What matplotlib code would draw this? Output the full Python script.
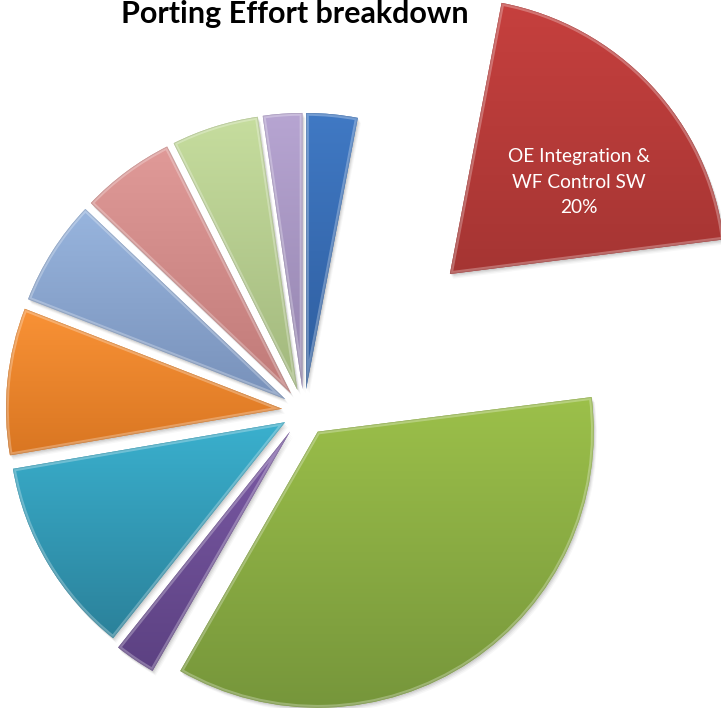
import matplotlib
matplotlib.use("Agg")
import matplotlib.pyplot as plt
import numpy as np
from matplotlib.colors import to_rgb
from matplotlib.patches import Wedge
import matplotlib.transforms as mtransforms

# ---------------- data ----------------
title = "Porting Effort breakdown"
categories = ["Item A", "OE Integration &\nWF Control SW", "Item C", "Item D", "Item E",
              "Item F", "Item G", "Item H", "Item I", "Item J"]
shown_label = [False, True, False, False, False, False, False, False, False, False]
values = [3.0, 20.0, 35.3, 2.4, 11.6, 8.6, 6.2, 5.5, 5.1, 2.3]
explode = [0.08, 0.725, 0.09, 0.09, 0.08, 0.08, 0.08, 0.08, 0.08, 0.08]
top_colors = ["#4079c4", "#c6403e", "#9cc04a", "#7b5aa5", "#3ab0ce",
              "#f99236", "#98b5de", "#e09a98", "#c6dd9e", "#b7a5d2"]
bottom_colors = ["#2e5d9e", "#a53533", "#76963b", "#5c4182", "#2b819a",
                 "#d97622", "#7891ba", "#c07a78", "#a2b87d", "#9484ae"]

# ---------------- figure ----------------
W, H = 721, 708
fig = plt.figure(figsize=(W / 100, H / 100), dpi=100)
ax = fig.add_axes([0, 0, 1, 1])

R = 276.0            # pie radius in pixels
cxp, cyp = 304, 411  # pie centre in pixels (from top-left)

wedges, texts = ax.pie(values, explode=explode, startangle=90, counterclock=False,
                       colors=top_colors, radius=1.0, frame=False,
                       wedgeprops=dict(linewidth=0))

for i, w in enumerate(wedges):
    w.set_zorder(3)
    # soft shadow
    for k, a in zip([1, 2, 3, 4], [0.07, 0.06, 0.045, 0.03]):
        tr = mtransforms.offset_copy(ax.transData, fig, x=0.8 * k, y=-1.2 * k, units="dots")
        sh = Wedge(w.center, w.r, w.theta1, w.theta2, facecolor=(0, 0, 0, a),
                   edgecolor="none", transform=tr, zorder=1)
        ax.add_patch(sh)
    # gradient fill
    th = np.radians(np.linspace(w.theta1, w.theta2, 60))
    xs = np.concatenate([[w.center[0]], w.center[0] + w.r * np.cos(th)])
    ys = np.concatenate([[w.center[1]], w.center[1] + w.r * np.sin(th)])
    x0, x1, y0, y1 = xs.min(), xs.max(), ys.min(), ys.max()
    c0 = np.array(to_rgb(top_colors[i]))
    c1 = np.array(to_rgb(bottom_colors[i]))
    t = np.linspace(0, 1, 256)[:, None]
    grad = (c0[None, :] * (1 - t) + c1[None, :] * t)[:, None, :]
    im = ax.imshow(grad, extent=(x0, x1, y0, y1), origin="upper", aspect="auto",
                   interpolation="bilinear", zorder=4)
    im.set_clip_path(w)
    # bevel highlight
    hl = Wedge(w.center, w.r, w.theta1, w.theta2, facecolor="none",
               edgecolor=(1, 1, 1, 0.28), linewidth=4, zorder=5)
    ax.add_patch(hl)
    hl.set_clip_path(w)
    dk = Wedge(w.center, w.r, w.theta1, w.theta2, facecolor="none",
               edgecolor=(0, 0, 0, 0.12), linewidth=1.2, zorder=5)
    ax.add_patch(dk)
    dk.set_clip_path(w)

    if shown_label[i]:
        mid = np.radians((w.theta1 + w.theta2) / 2)
        lx = w.center[0] + 0.64 * w.r * np.cos(mid)
        ly = w.center[1] + 0.485 * w.r * np.sin(mid)
        ax.text(lx, ly, f"{categories[i]}\n{values[i]:.0f}%", ha="center", va="center",
                color="white", fontsize=13.8, family="Lato", linespacing=1.6, zorder=6)

fig.text(295 / W, 1 - 23 / H, title, ha="center", va="baseline",
         fontsize=22, fontweight="bold", family="Lato", color="black")

ax.set_xlim(-cxp / R, (W - cxp) / R)
ax.set_ylim(-(H - cyp) / R, cyp / R)
ax.set_aspect("equal")
ax.axis("off")

fig.savefig("out.png", dpi=100)
